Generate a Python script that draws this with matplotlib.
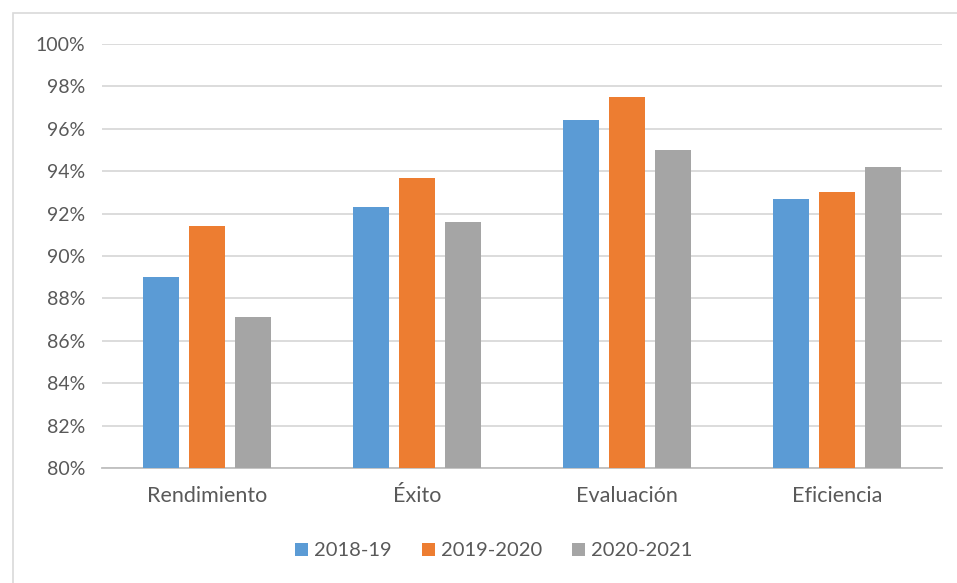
import numpy as np
import matplotlib.pyplot as plt
from matplotlib.patches import Rectangle
from matplotlib.ticker import FuncFormatter

# ==========================================
# Data
# ==========================================
categories = ["Rendimiento", "Éxito", "Evaluación", "Eficiencia"]
series_names = ["2018-19", "2019-2020", "2020-2021"]
vals_2018 = [89.0, 92.3, 96.4, 92.7]
vals_2019 = [91.4, 93.7, 97.5, 93.0]
vals_2020 = [87.1, 91.6, 95.0, 94.2]

colors = ["#5B9BD5", "#ED7D31", "#A5A5A5"]

plt.rcParams['font.family'] = ['Lato', 'DejaVu Sans']

fig = plt.figure(figsize=(9.57, 5.83), dpi=100)
ax = fig.add_axes([102 / 957, 1 - 468 / 583, 840 / 957, 424 / 583])

x = np.arange(len(categories))
width = 0.171
step = 0.218
for i, (vals, name) in enumerate(zip([vals_2018, vals_2019, vals_2020], series_names)):
    ax.bar(x + (i - 1) * step, np.array(vals) - 80, bottom=80, width=width,
           color=colors[i], label=name, zorder=3)

ax.set_ylim(80, 100)
ax.set_xlim(-0.5, len(categories) - 0.5)
ax.set_yticks(np.arange(80, 101, 2))
ax.yaxis.set_major_formatter(FuncFormatter(lambda v, p: f"{int(v)}%"))
ax.set_xticks(x)
ax.set_xticklabels(categories)

ax.grid(axis='y', color='#d9d9d9', linewidth=1.3, zorder=0)
for s in ['top', 'right', 'left']:
    ax.spines[s].set_visible(False)
ax.spines['bottom'].set_color('#bfbfbf')
ax.spines['bottom'].set_linewidth(1.3)
ax.tick_params(axis='both', length=0, colors='#595959')
ax.tick_params(axis='x', pad=13, labelsize=15.5)
ax.tick_params(axis='y', pad=12, labelsize=14)

ax.legend(loc='center', bbox_to_anchor=(0.516, (583 - 551) / 583), bbox_transform=fig.transFigure,
          ncol=3, frameon=False, fontsize=14.5, handlelength=0.65, handleheight=0.65,
          handletextpad=0.3, columnspacing=1.5, labelcolor='#595959')

# chart border
fig.add_artist(Rectangle((13 / 957, -0.1), 1.2, 1.1 - 13 / 583, transform=fig.transFigure,
                         fill=False, edgecolor='#d9d9d9', linewidth=1.2))

fig.savefig("out.png", dpi=100)
